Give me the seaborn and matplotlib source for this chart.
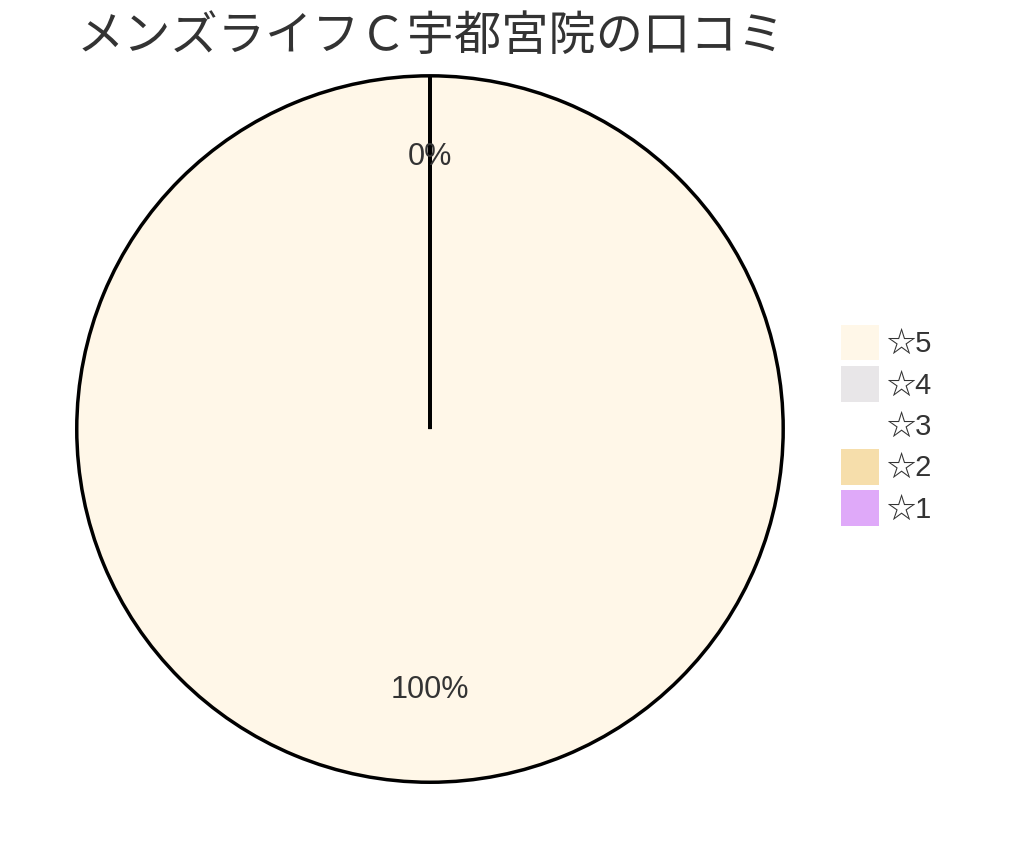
import matplotlib
matplotlib.use("Agg")
import matplotlib.pyplot as plt
from matplotlib.patches import Patch
import seaborn as sns

# データ
labels = ["☆5", "☆4", "☆3", "☆2", "☆1"]
percent = [100, 0, 0, 0, 0]
colors = ["#FFF7E8", "#E8E6E8", "#FFFFFF", "#F6DEAB", "#DFA9F9"]
title = "メンズライフＣ宇都宮院の口コミ"

sns.set_theme(style="white")
plt.rcParams["font.family"] = ["Liberation Sans", "Noto Sans CJK JP", "DejaVu Sans"]
text_color = "#333333"

fig = plt.figure(figsize=(10.24, 8.61), dpi=100)
ax = fig.add_axes([0.0732, 0.0894, 0.6934, 0.8246])

wedges, texts, autotexts = ax.pie(
    percent,
    colors=colors,
    startangle=90,
    counterclock=False,
    autopct=lambda p: f"{p:.0f}%",
    pctdistance=0.74,
    wedgeprops=dict(edgecolor="black", linewidth=2.5),
    textprops=dict(fontsize=22, color=text_color),
)
# 0% のラベルは重なるので一つだけ残す
seen = False
for t, v in zip(autotexts, percent):
    if v == 0:
        if seen:
            t.set_visible(False)
        else:
            x, y = t.get_position()
            t.set_position((x, y * 1.04))
        seen = True

ax.set_xlim(-1.005, 1.005)
ax.set_ylim(-1.005, 1.005)
ax.set_aspect("equal")
ax.axis("off")

fig.text(0.075, 0.957, title, fontsize=34, color=text_color,
         ha="left", va="center", family=["Noto Sans CJK JP", "DejaVu Sans"])

handles = [Patch(facecolor=c, edgecolor="none") for c in colors]
leg = fig.legend(handles, labels, loc="center left", bbox_to_anchor=(0.821, 0.506),
                 frameon=False, fontsize=21, handlelength=1.3, handleheight=1.5,
                 handletextpad=0.3, labelspacing=0.2, borderpad=0, borderaxespad=0)
for t in leg.get_texts():
    t.set_color(text_color)

fig.savefig("out.png", dpi=100)
